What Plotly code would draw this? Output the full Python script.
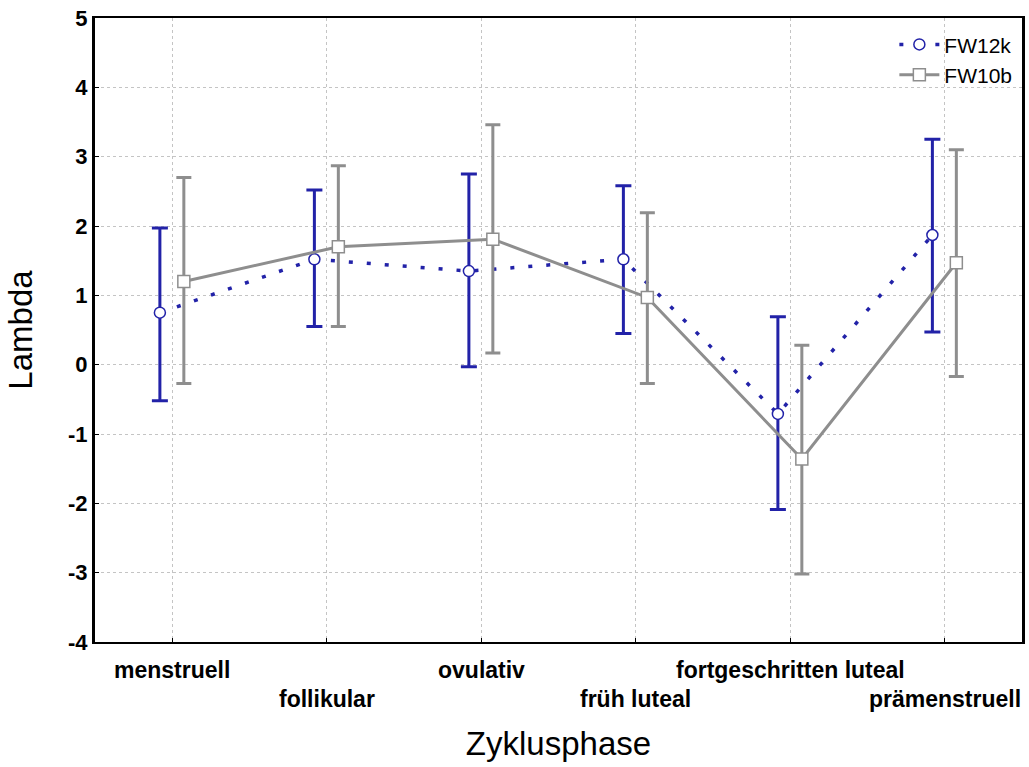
import plotly.graph_objects as go

categories = ["menstruell", "follikular", "ovulativ", "früh luteal",
              "fortgeschritten luteal", "prämenstruell"]

fw12k_mean = [0.75, 1.52, 1.35, 1.52, -0.71, 1.87]
fw12k_upper = [1.97, 2.52, 2.75, 2.58, 0.69, 3.25]
fw12k_lower = [-0.52, 0.55, -0.03, 0.45, -2.09, 0.47]

fw10b_mean = [1.20, 1.70, 1.81, 0.97, -1.36, 1.47]
fw10b_upper = [2.70, 2.87, 3.46, 2.19, 0.28, 3.10]
fw10b_lower = [-0.27, 0.55, 0.17, -0.27, -3.02, -0.17]

y_ticks = [5, 4, 3, 2, 1, 0, -1, -2, -3, -4]

BLUE = "#2222a8"
GRAY = "#8e8e8e"
FONT = "Liberation Sans, Arial, sans-serif"

idx = list(range(len(categories)))
x12 = [i - 0.08 for i in idx]
x10 = [i + 0.075 for i in idx]

fig = go.Figure()

fig.add_trace(go.Scatter(
    x=x12, y=fw12k_mean, name="FW12k", mode="lines+markers",
    line=dict(color=BLUE, width=3.5, dash="4px,14px"),
    marker=dict(symbol="circle", size=11, color="white",
                line=dict(color=BLUE, width=1.5)),
    error_y=dict(type="data", symmetric=False,
                 array=[u - m for u, m in zip(fw12k_upper, fw12k_mean)],
                 arrayminus=[m - l for m, l in zip(fw12k_mean, fw12k_lower)],
                 color=BLUE, thickness=3, width=8),
))

fig.add_trace(go.Scatter(
    x=x10, y=fw10b_mean, name="FW10b", mode="lines+markers",
    line=dict(color=GRAY, width=3),
    marker=dict(symbol="square", size=12, color="white",
                line=dict(color=GRAY, width=1.5)),
    error_y=dict(type="data", symmetric=False,
                 array=[u - m for u, m in zip(fw10b_upper, fw10b_mean)],
                 arrayminus=[m - l for m, l in zip(fw10b_mean, fw10b_lower)],
                 color=GRAY, thickness=3, width=7.5),
))

# staggered category labels
for i, lab in enumerate(categories):
    fig.add_annotation(
        x=i, xref="x", y=-0.045 if i % 2 == 0 else -0.091, yref="paper",
        text=lab, showarrow=False, xanchor="center", yanchor="middle",
        font=dict(family=FONT, size=23, color="black", weight="bold"),
    )

fig.update_layout(
    width=1029, height=767,
    margin=dict(l=95, r=4, t=18, b=125),
    paper_bgcolor="white", plot_bgcolor="white",
    font=dict(family=FONT, color="black"),
    showlegend=True,
    legend=dict(x=0.995, xanchor="right", y=0.99, yanchor="top",
                bgcolor="rgba(0,0,0,0)", font=dict(size=21, family=FONT),
                itemwidth=40, tracegroupgap=0),
    xaxis=dict(
        range=[-0.5, 5.5], tickvals=idx, ticktext=[""] * len(idx),
        showgrid=True, gridcolor="#c4c4c4", gridwidth=1, griddash="dot",
        showline=True, linecolor="black", linewidth=2, mirror=True,
        ticks="inside", ticklen=4, tickcolor="black",
        zeroline=False, fixedrange=True,
        title=dict(text="Zyklusphase", standoff=86,
                   font=dict(size=33, family=FONT)),
    ),
    yaxis=dict(
        range=[-4, 5], tickvals=y_ticks, ticktext=[str(v) for v in y_ticks],
        showgrid=True, gridcolor="#c4c4c4", gridwidth=1, griddash="dot",
        showline=True, linecolor="black", linewidth=3, mirror=True,
        ticks="inside", ticklen=4, tickcolor="black",
        tickfont=dict(size=22, family=FONT, weight="bold"),
        zeroline=False, fixedrange=True,
        title=dict(text="Lambda", standoff=26,
                   font=dict(size=33, family=FONT)),
    ),
)

fig.write_html("out.html")
